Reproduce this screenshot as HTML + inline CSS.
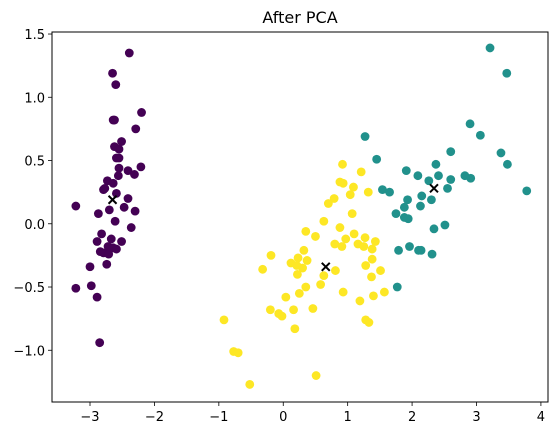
<!DOCTYPE html>
<html><head><meta charset="utf-8"><style>
html,body{margin:0;padding:0;background:#fff;width:559px;height:435px;overflow:hidden}
svg{display:block;font-family:"DejaVu Sans","Liberation Sans",sans-serif}
</style></head><body>
<svg id="chart" width="559" height="435" xmlns="http://www.w3.org/2000/svg">
<text x="300" y="23" text-anchor="middle" font-size="16" fill="#000">After PCA</text>
<g id="plot"></g>
</svg>
<script>
const xTicks=[-3,-2,-1,0,1,2,3,4];
const yTicks=[-1.0,-0.5,0.0,0.5,1.0,1.5];
const cluster0X=[-2.39,-2.65,-2.60,-2.20,-2.64,-2.62,-2.29,-2.51,-2.62,-2.55,-2.59,-2.55,-2.55,-2.41,-2.21,-2.31,-2.56,-2.73,-2.64,-2.79,-2.77,-2.59,-3.22,-2.41,-2.47,-2.70,-2.87,-2.30,-2.61,-2.36,-2.82,-2.89,-2.67,-2.51,-2.72,-2.64,-2.59,-2.84,-2.79,-2.71,-2.74,-3.00,-3.22,-2.98,-2.89,-2.85];
const cluster0Y=[1.35,1.19,1.10,0.88,0.82,0.82,0.75,0.65,0.61,0.59,0.52,0.52,0.44,0.42,0.45,0.39,0.38,0.34,0.32,0.27,0.28,0.24,0.14,0.20,0.13,0.11,0.08,0.10,0.02,-0.03,-0.08,-0.14,-0.12,-0.14,-0.18,-0.19,-0.20,-0.22,-0.23,-0.24,-0.32,-0.34,-0.51,-0.49,-0.58,-0.94];
const cluster1X=[0.92,1.21,0.88,0.93,1.09,1.04,1.32,0.79,0.70,1.07,0.63,0.35,0.50,0.88,1.10,1.27,1.43,0.97,0.80,0.91,1.16,1.25,1.38,-0.19,0.32,0.23,0.37,0.12,0.21,0.30,-0.32,1.38,1.28,0.81,0.63,0.22,1.51,1.37,0.58,0.35,0.25,0.04,0.93,1.19,1.40,1.57,-0.20,-0.07,-0.02,0.16,0.46,-0.92,0.18,1.28,1.33,-0.77,-0.70,-0.52,0.51];
const cluster1Y=[0.47,0.41,0.33,0.32,0.29,0.23,0.25,0.20,0.16,0.08,0.02,-0.06,-0.10,-0.03,-0.08,-0.11,-0.14,-0.12,-0.16,-0.18,-0.16,-0.18,-0.20,-0.25,-0.21,-0.27,-0.29,-0.31,-0.33,-0.35,-0.36,-0.28,-0.33,-0.37,-0.41,-0.40,-0.37,-0.42,-0.48,-0.50,-0.55,-0.58,-0.54,-0.61,-0.57,-0.54,-0.68,-0.71,-0.73,-0.68,-0.67,-0.76,-0.83,-0.76,-0.78,-1.01,-1.02,-1.27,-1.20];
const cluster2X=[3.21,3.47,2.90,3.06,1.27,2.60,3.38,3.48,1.45,2.37,1.91,2.09,2.41,2.26,2.60,2.82,2.91,2.55,1.54,1.65,3.78,2.15,2.30,1.93,2.13,1.88,1.75,1.88,1.94,2.34,2.51,1.79,1.96,2.10,2.14,2.31,1.77];
const cluster2Y=[1.39,1.19,0.79,0.70,0.69,0.57,0.56,0.47,0.51,0.47,0.42,0.38,0.38,0.34,0.35,0.38,0.36,0.28,0.27,0.25,0.26,0.22,0.19,0.19,0.14,0.13,0.08,0.05,0.04,-0.04,-0.01,-0.21,-0.18,-0.21,-0.21,-0.24,-0.50];
const centroidX=[-2.65,0.66,2.34];
const centroidY=[0.19,-0.34,0.28];

const L=52,R=548,T=32,B=402;
const xMin=-3.59,xMax=4.11,yMin=-1.409,yMax=1.516;
const sx=v=>L+(v-xMin)/(xMax-xMin)*(R-L);
const sy=v=>B-(v-yMin)/(yMax-yMin)*(B-T);
const NS="http://www.w3.org/2000/svg";
const plot=document.getElementById('plot');
function mk(tag,attrs,parent){const e=document.createElementNS(NS,tag);for(const k in attrs)e.setAttribute(k,attrs[k]);(parent||plot).appendChild(e);return e;}

function drawCluster(xs,ys,color,name){
  const g=mk('g',{});
  
  
  for(let i=0;i<xs.length;i++){
    const c=mk('circle',{cx:sx(xs[i]),cy:sy(ys[i]),r:4.4,fill:color},g);
    
    
  }
}
drawCluster(cluster0X,cluster0Y,'#440154','cluster-0');
drawCluster(cluster1X,cluster1Y,'#fde725','cluster-1');
drawCluster(cluster2X,cluster2Y,'#21918c','cluster-2');

for(let i=0;i<centroidX.length;i++){
  const cx=sx(centroidX[i]),cy=sy(centroidY[i]),d=4;
  const p=mk('path',{d:`M${cx-d},${cy-d}L${cx+d},${cy+d}M${cx-d},${cy+d}L${cx+d},${cy-d}`,stroke:'#000','stroke-width':2});
  
  
}

const frame=mk('rect',{x:L,y:T,width:R-L,height:B-T,fill:'none',stroke:'#000','stroke-width':1});



xTicks.forEach(t=>{
  const x=sx(t);
  const tk=mk('line',{x1:x,x2:x,y1:B,y2:B+4,stroke:'#000','stroke-width':0.8});
  
  
  const lb=mk('text',{x:x,y:B+19,'text-anchor':'middle','font-size':13,fill:'#000'});
  lb.textContent=t<0?'\u2212'+Math.abs(t):String(t);
  
  
});
yTicks.forEach(t=>{
  const y=sy(t);
  const tk=mk('line',{x1:L-4,x2:L,y1:y,y2:y,stroke:'#000','stroke-width':0.8});
  
  
  const lb=mk('text',{x:L-7,y:y+5,'text-anchor':'end','font-size':13,fill:'#000'});
  lb.textContent=(t<0?'\u2212':'')+Math.abs(t).toFixed(1);
  
  
});
</script>
</body></html>
